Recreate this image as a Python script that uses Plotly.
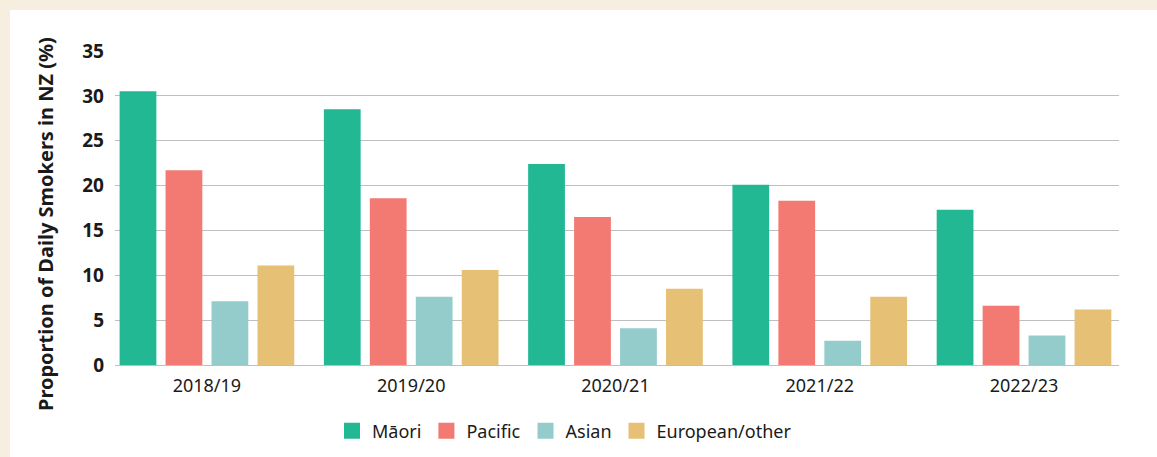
import plotly.graph_objects as go

years = ["2018/19", "2019/20", "2020/21", "2021/22", "2022/23"]
maori = [30.5, 28.5, 22.4, 20.1, 17.3]
pacific = [21.7, 18.6, 16.5, 18.3, 6.6]
asian = [7.1, 7.6, 4.1, 2.7, 3.3]
european = [11.1, 10.6, 8.5, 7.6, 6.2]
y_ticks = [0, 5, 10, 15, 20, 25, 30, 35]

series = [
    ("Māori", maori, "#22B894"),
    ("Pacific", pacific, "#F27A72"),
    ("Asian", asian, "#94CBCB"),
    ("European/other", european, "#E6C075"),
]

W, H = 1157, 457
L, R, T, B = 115, 38, 51, 92
PW, PH = W - L - R, H - T - B

fig = go.Figure()
for name, vals, col in series:
    fig.add_trace(go.Bar(x=years, y=vals, name=name, showlegend=False,
                         marker=dict(color=col, line=dict(width=0))))
for name, vals, col in series:
    fig.add_trace(go.Scatter(x=[None], y=[None], name=name, mode="markers",
                             marker=dict(symbol="square", size=16, color=col)))

fig.update_layout(
    width=W, height=H,
    paper_bgcolor="#F6EEDF",
    plot_bgcolor="rgba(0,0,0,0)",
    margin=dict(l=L, r=R, t=T, b=B, autoexpand=False),
    barmode="group",
    bargap=0.1,
    bargroupgap=0.2,
    font=dict(family="Noto Sans", color="#1a1a1a"),
    legend=dict(orientation="h", x=(332 - L) / PW, xanchor="left",
                yref="container", y=(H - 431) / H, yanchor="middle",
                font=dict(size=18), itemsizing="trace", traceorder="normal",
                itemwidth=30, bgcolor="rgba(0,0,0,0)"),
    shapes=[dict(type="rect", xref="paper", yref="paper", layer="below",
                 x0=-(L - 10) / PW, x1=1.1, y0=-0.4, y1=(H - 10 - B) / PH,
                 fillcolor="white", line=dict(width=0))],
    annotations=[dict(text="<b>Proportion of Daily Smokers in NZ (%)</b>",
                      xref="paper", yref="paper", x=(45 - L) / PW, y=(H - B - 224) / PH,
                      xanchor="center", yanchor="middle", textangle=-90, showarrow=False,
                      font=dict(size=20, family="Noto Sans", color="#1a1a1a"))],
)
fig.update_xaxes(range=[-0.45, 4.465], showgrid=False, showline=False, ticks="",
                 tickfont=dict(size=18), ticklabelstandoff=8)
fig.update_yaxes(range=[0, 35], tickvals=y_ticks, showgrid=True,
                 gridcolor="rgba(0,0,0,0.25)", gridwidth=1, layer="above traces",
                 zeroline=True, zerolinecolor="rgba(0,0,0,0.25)", zerolinewidth=1,
                 tickfont=dict(size=19, family="Noto Sans", weight="bold"),
                 ticklabelstandoff=10)
fig.write_html("out.html", config={"displayModeBar": False},
               post_script="document.body.style.margin='0';document.body.style.overflow='hidden';")
